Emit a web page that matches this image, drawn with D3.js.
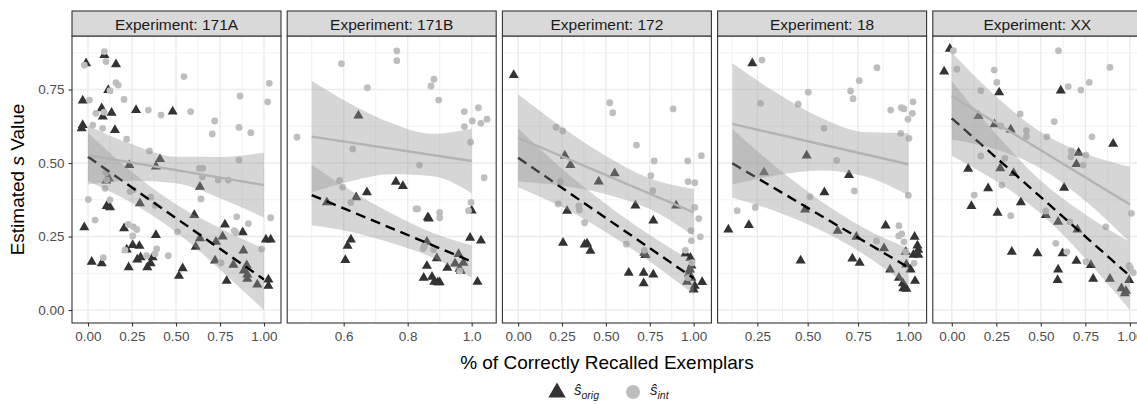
<!DOCTYPE html>
<html><head><meta charset="utf-8">
<script src="https://cdn.jsdelivr.net/npm/d3@7"></script>
<style>body{margin:0;background:#fff;} svg{display:block;font-family:"Liberation Sans",Arial,Helvetica,sans-serif;}</style>
</head><body><svg id="c" width="1137" height="404"></svg>
<script>
// ---------------- DATA ----------------
const experiments = ["171A", "171B", "172", "18", "XX"];
const xDomains = [[-0.0909, 1.0966], [0.4234, 1.0766], [-0.0894, 1.1008], [0.0527, 1.0905], [-0.1067, 1.067]];
const xTicks = [[0, 0.25, 0.5, 0.75, 1], [0.6, 0.8, 1.0], [0, 0.25, 0.5, 0.75, 1], [0.25, 0.5, 0.75, 1], [0, 0.25, 0.5, 0.75, 1]];
const xMinor = [[0.125, 0.375, 0.625, 0.875], [0.5, 0.7, 0.9], [0.125, 0.375, 0.625, 0.875], [0.125, 0.375, 0.625, 0.875], [0.125, 0.375, 0.625, 0.875]];
const xTickDigits = [2, 1, 2, 2, 2];
const yDomain = [-0.044, 0.932];
const yTicks = [0, 0.25, 0.5, 0.75];
const yMinor = [0.125, 0.375, 0.625, 0.875];

// s_orig (triangles)
const orig171A = [[-0.011,0.839],[0.093,0.867],[0.159,0.836],[-0.03,0.712],[0.115,0.748],[-0.03,0.629],[-0.036,0.618],[0.078,0.686],[0.084,0.658],[0.134,0.671],[0.153,0.612],[0.273,0.680],[0.481,0.675],[0.235,0.493],[0.409,0.513],[0.386,0.488],[0.104,0.44],[0.119,0.447],[0.106,0.354],[0.125,0.349],[-0.021,0.281],[0.021,0.164],[0.078,0.159],[0.205,0.278],[0.220,0.206],[0.254,0.221],[0.292,0.218],[0.231,0.145],[0.280,0.172],[0.299,0.179],[0.295,0.363],[0.337,0.145],[0.356,0.159],[0.367,0.179],[0.386,0.255],[0.517,0.116],[0.538,0.142],[0.604,0.323],[0.612,0.215],[0.636,0.244],[0.636,0.419],[0.722,0.168],[0.727,0.232],[0.765,0.250],[0.778,0.291],[0.788,0.099],[0.826,0.154],[0.879,0.264],[0.883,0.202],[0.886,0.134],[0.902,0.152],[0.905,0.121],[0.905,0.106],[0.962,0.087],[1.011,0.240],[1.038,0.240],[1.025,0.104],[1.025,0.082]];
const orig171B = [[0.646,0.661],[0.5475,0.366],[0.639,0.383],[0.6725,0.400],[0.763,0.436],[0.785,0.422],[0.863,0.315],[0.866,0.311],[0.6225,0.240],[0.612,0.218],[0.605,0.170],[0.860,0.232],[0.891,0.176],[0.860,0.150],[0.850,0.110],[0.876,0.113],[0.883,0.096],[0.900,0.094],[0.894,0.094],[0.924,0.144],[0.948,0.158],[0.959,0.190],[0.962,0.140],[0.966,0.133],[0.974,0.161],[0.995,0.246],[1.0,0.338],[1.029,0.236],[1.018,0.096]];
const orig172 = [[-0.025,0.799],[0.266,0.525],[0.298,0.493],[0.550,0.465],[0.459,0.437],[0.279,0.337],[0.256,0.229],[0.379,0.223],[0.393,0.226],[0.412,0.201],[0.668,0.355],[0.770,0.304],[0.900,0.355],[0.719,0.195],[0.725,0.187],[0.630,0.127],[0.715,0.127],[0.715,0.091],[0.770,0.121],[0.953,0.192],[0.981,0.178],[0.987,0.151],[0.972,0.124],[0.962,0.096],[1.006,0.082],[1.0,0.070],[1.048,0.095],[0.987,0.110],[0.978,0.138]];
const orig18 = [[0.225,0.839],[0.495,0.525],[0.283,0.468],[0.705,0.459],[0.583,0.400],[0.487,0.342],[0.106,0.274],[0.208,0.289],[0.649,0.269],[0.742,0.249],[0.887,0.287],[0.879,0.210],[0.465,0.168],[0.722,0.175],[0.758,0.161],[0.909,0.138],[0.987,0.198],[1.031,0.249],[1.045,0.219],[1.049,0.205],[1.025,0.188],[1.049,0.188],[0.990,0.155],[1.011,0.138],[0.953,0.110],[0.973,0.091],[0.975,0.074],[0.990,0.072],[1.033,0.099],[0.983,0.079]];
const origXX = [[-0.011,0.888],[-0.043,0.811],[0.266,0.740],[0.612,0.746],[0.150,0.660],[0.240,0.632],[0.331,0.614],[0.906,0.565],[0.712,0.535],[0.7,0.496],[0.092,0.480],[0.272,0.482],[0.347,0.466],[0.204,0.414],[0.631,0.416],[0.110,0.354],[0.257,0.331],[0.388,0.366],[0.528,0.323],[0.597,0.300],[0.706,0.274],[0.337,0.198],[0.481,0.193],[0.622,0.193],[0.597,0.138],[0.594,0.102],[0.700,0.167],[0.781,0.153],[0.794,0.106],[0.888,0.106],[0.953,0.074],[0.972,0.057],[0.978,0.065],[0.996,0.102]];

// s_int (circles)
const int171A = [[-0.021,0.833],[0.093,0.879],[0.102,0.845],[0.159,0.773],[0.172,0.765],[0.125,0.746],[0.008,0.714],[0.205,0.716],[0.045,0.669],[0.091,0.673],[0.027,0.629],[0.083,0.618],[0.220,0.581],[0.343,0.680],[0.415,0.663],[0.545,0.794],[0.583,0.675],[0.72,0.643],[0.706,0.599],[0.864,0.728],[0.858,0.621],[0.925,0.603],[1.030,0.771],[1.021,0.708],[0.349,0.541],[0.633,0.482],[0.652,0.482],[0.650,0.453],[0.74,0.442],[0.797,0.442],[0.858,0.510],[0.102,0.467],[0.106,0.443],[0.002,0.376],[0.040,0.306],[0.097,0.414],[0.125,0.375],[0.239,0.403],[0.258,0.409],[0.356,0.384],[0.381,0.356],[0.229,0.291],[0.258,0.283],[0.277,0.274],[0.254,0.252],[0.390,0.208],[0.381,0.191],[0.333,0.185],[0.456,0.185],[0.210,0.204],[0.087,0.178],[0.642,0.378],[0.508,0.266],[0.845,0.317],[0.841,0.263],[0.831,0.27],[0.911,0.294],[1.038,0.314],[0.987,0.208],[0.756,0.160]];
const int171B = [[0.454,0.588],[0.593,0.838],[0.674,0.756],[0.766,0.881],[0.766,0.848],[0.882,0.785],[0.873,0.762],[0.897,0.714],[0.977,0.675],[1.021,0.688],[1.002,0.643],[0.977,0.624],[1.029,0.635],[1.048,0.649],[0.997,0.571],[0.628,0.548],[0.837,0.493],[1.039,0.450],[0.587,0.441],[0.597,0.418],[0.6225,0.366],[0.826,0.344],[0.831,0.344],[0.9,0.332],[0.9,0.314],[0.998,0.366],[0.99,0.338],[0.848,0.209],[0.852,0.217],[0.881,0.206],[0.963,0.133]];
const int172 = [[0.522,0.705],[0.539,0.671],[0.883,0.684],[0.216,0.622],[0.254,0.609],[0.674,0.561],[0.775,0.507],[0.966,0.507],[1.044,0.525],[0.756,0.457],[0.767,0.406],[0.968,0.437],[1.006,0.433],[0.241,0.437],[0.228,0.361],[0.346,0.354],[0.349,0.340],[0.379,0.297],[1.006,0.349],[1.029,0.311],[1.038,0.249],[0.985,0.270],[0.987,0.236],[0.617,0.224],[0.719,0.203],[0.953,0.203],[0.991,0.161],[0.968,0.110]];
const int18 = [[0.273,0.850],[0.844,0.824],[0.756,0.780],[0.713,0.745],[0.725,0.719],[0.503,0.741],[0.266,0.703],[0.453,0.700],[0.912,0.680],[0.965,0.688],[0.978,0.684],[1.023,0.708],[1.020,0.669],[0.998,0.649],[0.581,0.618],[0.962,0.601],[1.003,0.584],[0.644,0.509],[0.732,0.405],[1.0,0.390],[0.511,0.385],[0.150,0.338],[0.240,0.349],[0.953,0.287],[0.967,0.259],[0.952,0.252],[0.978,0.232],[0.842,0.235],[1.028,0.159],[0.987,0.198]];
const intXX = [[0.009,0.882],[0.599,0.882],[0.028,0.819],[0.238,0.816],[0.888,0.825],[0.253,0.774],[0.772,0.774],[0.163,0.746],[0.654,0.760],[0.725,0.748],[0.384,0.667],[0.575,0.641],[0.275,0.626],[0.419,0.610],[0.419,0.590],[0.534,0.589],[0.787,0.589],[0.672,0.541],[0.669,0.521],[0.753,0.527],[0.738,0.493],[0.163,0.524],[0.298,0.516],[0.281,0.425],[0.126,0.391],[0.331,0.321],[0.528,0.337],[0.663,0.300],[0.865,0.283],[1.009,0.329],[0.584,0.227],[0.646,0.198],[0.753,0.164],[0.996,0.151],[1.004,0.142],[1.019,0.127]];

const origPoints = [orig171A, orig171B, orig172, orig18, origXX];
const intPoints = [int171A, int171B, int172, int18, intXX];

// linear fits: x range, fitted value at the ends, CI half-width at 5 evenly spaced x
const fitX = [[0, 1], [0.5, 1], [0, 1], [0.126, 1], [0, 1]];
const origFitY = [[0.521, 0.104], [0.391, 0.165], [0.518, 0.108], [0.499, 0.145], [0.652, 0.116]];
const origHalfWidth = [[0.082, 0.053, 0.047, 0.070, 0.105], [0.103, 0.07, 0.05, 0.042, 0.055], [0.10, 0.065, 0.048, 0.045, 0.055], [0.117, 0.075, 0.05, 0.045, 0.065], [0.127, 0.08, 0.056, 0.075, 0.116]];
const intFitY = [[0.527, 0.425], [0.590, 0.507], [0.586, 0.332], [0.633, 0.496], [0.728, 0.359]];
const intHalfWidth = [[0.100, 0.062, 0.045, 0.070, 0.111], [0.19, 0.13, 0.087, 0.072, 0.11], [0.148, 0.10, 0.065, 0.052, 0.08], [0.206, 0.14, 0.09, 0.075, 0.106], [0.148, 0.09, 0.062, 0.08, 0.128]];

// ---------------- DRAW ----------------
const svg = d3.select("#c");
const panelLeft0 = 72, panelStep = 215.2, panelW = 209;
const stripTop = 11, panelTop = 36, panelBottom = 323;
const y = d3.scaleLinear().domain(yDomain).range([panelBottom, panelTop]);
const defs = svg.append("defs");
const gridCol = "#ebebeb", borderCol = "#333333", tickTextCol = "#4d4d4d";
const origCol = "#333333", intCol = "#bebebe";

function bandPoints(fx, fy, hw) {
  return hw.map((h, k) => {
    const t = k / (hw.length - 1);
    const xv = fx[0] + t * (fx[1] - fx[0]);
    const c = fy[0] + t * (fy[1] - fy[0]);
    return {x: xv, c: c, lo: c - h, hi: c + h};
  });
}

experiments.forEach((exp, i) => {
  const x0 = panelLeft0 + i * panelStep;
  const x = d3.scaleLinear().domain(xDomains[i]).range([x0, x0 + panelW]);
  const clipId = "clip" + i;
  defs.append("clipPath").attr("id", clipId).append("rect")
    .attr("x", x0).attr("y", panelTop).attr("width", panelW).attr("height", panelBottom - panelTop);
  const g = svg.append("g");
  const inner = g.append("g").attr("clip-path", `url(#${clipId})`);
  // grid
  inner.selectAll(".ymin").data(yMinor).enter().append("line")
    .attr("x1", x0).attr("x2", x0 + panelW).attr("y1", d => y(d)).attr("y2", d => y(d))
    .attr("stroke", gridCol).attr("stroke-width", 0.7);
  inner.selectAll(".xmin").data(xMinor[i]).enter().append("line")
    .attr("y1", panelTop).attr("y2", panelBottom).attr("x1", d => x(d)).attr("x2", d => x(d))
    .attr("stroke", gridCol).attr("stroke-width", 0.7);
  inner.selectAll(".ymaj").data(yTicks).enter().append("line")
    .attr("x1", x0).attr("x2", x0 + panelW).attr("y1", d => y(d)).attr("y2", d => y(d))
    .attr("stroke", gridCol).attr("stroke-width", 1.4);
  inner.selectAll(".xmaj").data(xTicks[i]).enter().append("line")
    .attr("y1", panelTop).attr("y2", panelBottom).attr("x1", d => x(d)).attr("x2", d => x(d))
    .attr("stroke", gridCol).attr("stroke-width", 1.4);

  // points
  const tri = d3.symbol().type(d3.symbolTriangle).size(44);
  inner.selectAll(".tri").data(origPoints[i]).enter().append("path")
    .attr("d", tri).attr("transform", d => `translate(${x(d[0])},${y(d[1])})`)
    .attr("fill", origCol);
  inner.selectAll(".cir").data(intPoints[i]).enter().append("circle")
    .attr("cx", d => x(d[0])).attr("cy", d => y(d[1])).attr("r", 3.4)
    .attr("fill", intCol);

  // smooths
  const area = d3.area().x(d => x(d.x)).y0(d => y(d.lo)).y1(d => y(d.hi)).curve(d3.curveMonotoneX);
  const line = d3.line().x(d => x(d.x)).y(d => y(d.c));
  const ob = bandPoints(fitX[i], origFitY[i], origHalfWidth[i]);
  const ib = bandPoints(fitX[i], intFitY[i], intHalfWidth[i]);
  inner.append("path").attr("d", area(ob)).attr("fill", "#999999").attr("fill-opacity", 0.4);
  inner.append("path").attr("d", line([ob[0], ob[ob.length - 1]])).attr("fill", "none")
    .attr("stroke", "#000").attr("stroke-width", 2.4).attr("stroke-dasharray", "10,6");
  inner.append("path").attr("d", area(ib)).attr("fill", "#999999").attr("fill-opacity", 0.4);
  inner.append("path").attr("d", line([ib[0], ib[ib.length - 1]])).attr("fill", "none")
    .attr("stroke", "#b3b3b3").attr("stroke-width", 2.4);

  // border
  g.append("rect").attr("x", x0).attr("y", panelTop).attr("width", panelW).attr("height", panelBottom - panelTop)
    .attr("fill", "none").attr("stroke", borderCol).attr("stroke-width", 1.1);
  // strip
  g.append("rect").attr("x", x0).attr("y", stripTop).attr("width", panelW).attr("height", panelTop - stripTop)
    .attr("fill", "#d9d9d9").attr("stroke", borderCol).attr("stroke-width", 1.1);
  g.append("text").attr("x", x0 + panelW / 2).attr("y", stripTop + 18.5).attr("text-anchor", "middle")
    .attr("font-size", 15.5).attr("fill", "#1a1a1a").text("Experiment: " + exp);

  // x axis
  const xa = g.append("g").attr("transform", `translate(0,${panelBottom})`)
    .call(d3.axisBottom(x).tickValues(xTicks[i]).tickFormat(d3.format("." + xTickDigits[i] + "f"))
      .tickSizeInner(3.5).tickSizeOuter(0).tickPadding(4.5));
  xa.select(".domain").remove();
  xa.selectAll(".tick line").attr("stroke", borderCol).attr("stroke-width", 1.1);
  xa.selectAll(".tick text").attr("fill", tickTextCol).attr("font-size", 13.5).attr("font-family", null);

  if (i === 0) {
    const ya = g.append("g").attr("transform", `translate(${x0},0)`)
      .call(d3.axisLeft(y).tickValues(yTicks).tickFormat(d3.format(".2f"))
        .tickSizeInner(3.5).tickSizeOuter(0).tickPadding(4));
    ya.select(".domain").remove();
    ya.selectAll(".tick line").attr("stroke", borderCol).attr("stroke-width", 1.1);
    ya.selectAll(".tick text").attr("fill", tickTextCol).attr("font-size", 13.5).attr("font-family", null);
  }
});

// axis titles
const xCenter = panelLeft0 + (4 * panelStep + panelW) / 2;
svg.append("text").attr("x", xCenter).attr("y", 369).attr("text-anchor", "middle")
  .attr("font-size", 19).attr("fill", "#000").text("% of Correctly Recalled Exemplars");
const yt = svg.append("text").attr("transform", `translate(24,${(panelTop + panelBottom) / 2}) rotate(-90)`)
  .attr("text-anchor", "middle").attr("font-size", 19).attr("fill", "#000");
yt.append("tspan").text("Estimated ");
yt.append("tspan").attr("font-style", "italic").text("s");
yt.append("tspan").text(" Value");

// legend
const leg = svg.append("g");
leg.append("path").attr("d", d3.symbol().type(d3.symbolTriangle).size(130)())
  .attr("transform", "translate(557,392.5)").attr("fill", origCol);
const l1 = leg.append("text").attr("x", 574).attr("y", 395).attr("font-size", 15).attr("fill", "#1a1a1a");
l1.append("tspan").attr("font-style", "italic").text("ŝ");
l1.append("tspan").attr("font-style", "italic").attr("font-size", 10.5).attr("dy", 4).text("orig");
leg.append("circle").attr("cx", 633).attr("cy", 392).attr("r", 7).attr("fill", intCol);
const l2 = leg.append("text").attr("x", 650).attr("y", 395).attr("font-size", 15).attr("fill", "#1a1a1a");
l2.append("tspan").attr("font-style", "italic").text("ŝ");
l2.append("tspan").attr("font-style", "italic").attr("font-size", 10.5).attr("dy", 4).text("int");
</script>
</body></html>
